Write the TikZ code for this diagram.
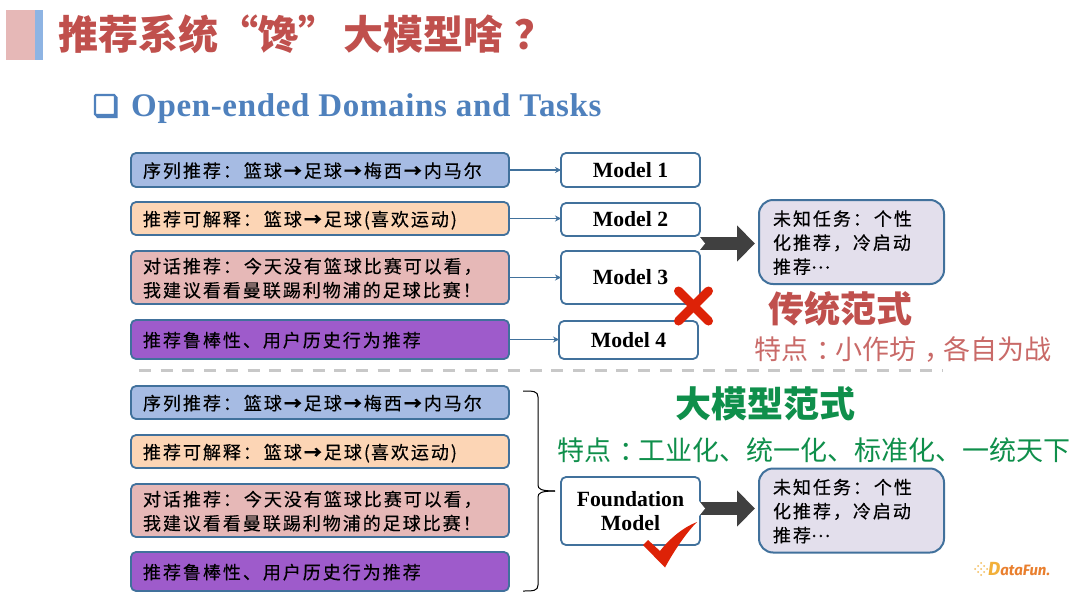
\documentclass[tikz,border=0pt]{standalone}
\usepackage{fontspec}
\setmainfont{Liberation Serif}
\newfontfamily\cjk{Noto Sans CJK SC}
\newfontfamily\cjkbody[LetterSpace=11,FakeBold=0.35]{Noto Sans CJK SC}
\newfontfamily\subfont[LetterSpace=2]{Liberation Serif}
\newfontfamily\logofont{Fira Sans}
\usetikzlibrary{arrows.meta}
\definecolor{edgeblue}{HTML}{41719C}
\definecolor{linkblue}{HTML}{41719C}
\definecolor{titlered}{HTML}{C0504D}
\definecolor{subblue}{HTML}{4F81BD}
\definecolor{paradigmgreen}{HTML}{0F8F4B}
\definecolor{fillblue}{HTML}{A6BBE3}
\definecolor{fillorange}{HTML}{FCD5B5}
\definecolor{fillpink}{HTML}{E6B8B7}
\definecolor{fillpurple}{HTML}{9E5BCB}
\definecolor{filllav}{HTML}{E3DFEC}
\definecolor{crossred}{HTML}{DD2207}
\definecolor{fatgray}{HTML}{404040}
\definecolor{dashgray}{HTML}{C8C8C8}
\definecolor{logoorange}{HTML}{F2B03A}
\definecolor{logored}{HTML}{E97F2E}
\definecolor{barblue}{HTML}{8EB4E3}
\tikzset{
  x=1pt,y=-1pt,
  taskbox/.style={draw=edgeblue,line width=1.8pt,rounded corners=5pt,outer sep=0pt,
    inner xsep=12pt,inner ysep=0pt,text width=354pt,minimum width=378pt,align=left,
    text=black,font=\cjkbody\fontsize{18}{24}\selectfont},
  modelbox/.style={draw=edgeblue,line width=1.8pt,rounded corners=5pt,outer sep=0pt,fill=white,
    inner sep=0pt,minimum width=139pt,align=center,font=\bfseries\fontsize{21.7}{24}\selectfont},
  unknownbox/.style={draw=edgeblue,line width=2pt,rounded corners=14pt,outer sep=0pt,fill=filllav,
    inner xsep=14pt,inner ysep=0pt,text width=157pt,minimum width=185pt,minimum height=84pt,align=left,
    font=\cjkbody\fontsize{18}{24}\selectfont},
  link/.style={linkblue,line width=1.6pt,-{Stealth[length=6pt,width=6pt]}},
  fatlink/.style={fatgray,line width=13pt,-{Triangle[length=18pt,width=35pt]},shorten >=4pt},
  crossline/.style={crossred,line width=9pt,line cap=round},
  headline/.style={inner sep=0pt,font=\cjk\bfseries\fontsize{36}{40}\selectfont},
  subline/.style={inner sep=0pt,font=\cjk\fontsize{27}{30}\selectfont},
}
\newcommand{\ra}{\hspace{2pt}{\bfseries →}\hspace{2pt}}
\newcommand{\coln}{：\hspace{3pt}}
\newcommand{\ctr}[1]{\kern8pt#1\kern-8pt}
\newcommand{\cdotsraised}{\raisebox{5pt}{⋯}}
\newcommand{\lin}[1]{\raisebox{0pt}[15pt][-2pt]{#1}}
\newcommand{\recA}{\lin{序列推荐\coln 篮球\ra 足球\ra 梅西\ra 内马尔}}
\newcommand{\recB}{\lin{推荐可解释\coln 篮球\ra 足球\hspace{2pt}(\hspace{1pt}喜欢运动\hspace{2pt})}}
\newcommand{\recC}{\lin{对话推荐\coln 今天没有篮球比赛可以看，}\\\lin{我建议看看曼联踢利物浦的足球比赛！}}
\newcommand{\recD}{\lin{推荐鲁棒性、用户历史行为推荐}}
\newcommand{\recU}{\lin{未知任务\coln 个性}\\\lin{化推荐，冷启动}\\\lin{推荐\cdotsraised}}
\begin{document}
\begin{tikzpicture}
\useasboundingbox (0,0) rectangle (1080,608);
\fill[white] (0,0) rectangle (1080,608);
% title bar
\fill[fillpink] (6,10) rectangle (35,60);
\fill[barblue] (35,10) rectangle (43,60);
\node[anchor=west,inner sep=0pt,text=titlered,font=\cjk\bfseries\fontsize{40}{44}\selectfont] (title) at (58,34) {推荐系统“馋”\kern5pt 大模型啥\kern11pt ？};
% bullet
\draw[subblue,line width=2.2pt,rounded corners=1pt] (95,95) rectangle (115,115);
\fill[subblue] (95,115) -- (115,115) -- (115,95) -- (117.5,97) -- (117.5,118) -- (97,118) -- cycle;
\node[anchor=west,inner sep=0pt,text=subblue,font=\subfont\bfseries\fontsize{33}{36}\selectfont] (sub) at (131,109) {Open-ended Domains and Tasks};
% top tasks
\node[taskbox,fill=fillblue,minimum height=34pt] (b1) at (320,170) {\recA};
\node[taskbox,fill=fillorange,minimum height=33pt] (b2) at (320,218.5) {\recB};
\node[taskbox,fill=fillpink,minimum height=53pt] (b3) at (320,277.5) {\recC};
\node[taskbox,fill=fillpurple,minimum height=39pt] (b4) at (320,339.5) {\recD};
% models
\node[modelbox,minimum height=34pt] (m1) at (630.5,170) {Model 1};
\node[modelbox,minimum height=33pt] (m2) at (630.5,219.5) {Model 2};
\node[modelbox,minimum height=53pt] (m3) at (630.5,277.5) {Model 3};
\node[modelbox,minimum height=38pt] (m4) at (628.5,340) {Model 4};
\draw[link] (b1) -- (m1);
\draw[link] (b2.east) -- (m2.west |- b2.east);
\draw[link] (b3) -- (m3);
\draw[link] (b4.east) -- (m4.west |- b4.east);
% unknown top
\node[unknownbox] (u1) at (851.5,242) {\recU};
\coordinate (a1) at (700,243.5);
\draw[fatlink] (a1) -- (a1 -| u1.west);
\fill[white] (699,236) -- (705,243.5) -- (699,251) -- cycle;
% cross
\coordinate (x1) at (678.5,291);
\coordinate (x2) at (708.5,321);
\coordinate (x3) at (708.5,291);
\coordinate (x4) at (678.5,321);
\draw[crossline] (x1) -- (x2);
\draw[crossline] (x3) -- (x4);
% captions
\node[headline,text=titlered] (h1) at (840,309) {传统范式};
\node[subline,text=titlered!85] (s1) at (903,349) {特点\ctr{：}小作坊\ctr{，}各自为战};
\coordinate (d1) at (139,370);
\coordinate (d2) at (942,370);
\draw[dashgray,line width=3pt,dash pattern=on 12pt off 9.7pt] (d1) -- (d2);
\node[headline,text=paradigmgreen] (h2) at (765,404) {大模型范式};
\node[subline,text=paradigmgreen] (s2) at (814,450) {特点\ctr{：}工业化、统一化、标准化、一统天下};
% bottom tasks
\node[taskbox,fill=fillblue,minimum height=33pt] (c1) at (320,402.5) {\recA};
\node[taskbox,fill=fillorange,minimum height=33pt] (c2) at (320,451.5) {\recB};
\node[taskbox,fill=fillpink,minimum height=53pt] (c3) at (320,510.5) {\recC};
\node[taskbox,fill=fillpurple,minimum height=39pt] (c4) at (320,571.5) {\recD};
% brace
\node[modelbox,minimum height=68pt,text width=130pt] (f) at (630.5,511) {Foundation\\Model};
\coordinate (br1) at (523,391);
\coordinate (br2) at (523,591);
\coordinate (brt) at (555,491);
\draw[black,line width=1pt] (br1) .. controls (533,391) and (538,391) .. (538,397) -- (538,485)
  .. controls (538,489) and (541,491) .. (brt);
\draw[black,line width=1pt] (brt) .. controls (541,491) and (538,493) .. (538,497) -- (538,585)
  .. controls (538,591) and (533,591) .. (br2);
% unknown bottom
\node[unknownbox] (u2) at (851.5,510.5) {\recU};
\draw[fatlink] ([yshift=2.5pt]f.east) -- ([yshift=2.5pt]f.east -| u2.west);
\fill[white] (699,501) -- (705,508.5) -- (699,516) -- cycle;
% check
\fill[crossred] (643,545) -- (648,540) -- (660,551) .. controls (670,538) and (684,527) .. (697,522)
  .. controls (686,533) and (674,551) .. (665,567.5) -- cycle;
% logo
\foreach \dx/\dy in {0/6,3/3,3/9,6/0,6/6,6/12,9/3,9/9,12/6}
  \fill[logoorange!85] (975+\dx,563+\dy) circle (1pt);
\node[anchor=west,inner sep=0pt,font=\logofont\bfseries\itshape\fontsize{15}{16}\selectfont] (logo) at (988,569.5) {\textcolor{logoorange}{\fontsize{19}{16}\selectfont D}\textcolor{logored}{ataFun.}};
\end{tikzpicture}
\end{document}
